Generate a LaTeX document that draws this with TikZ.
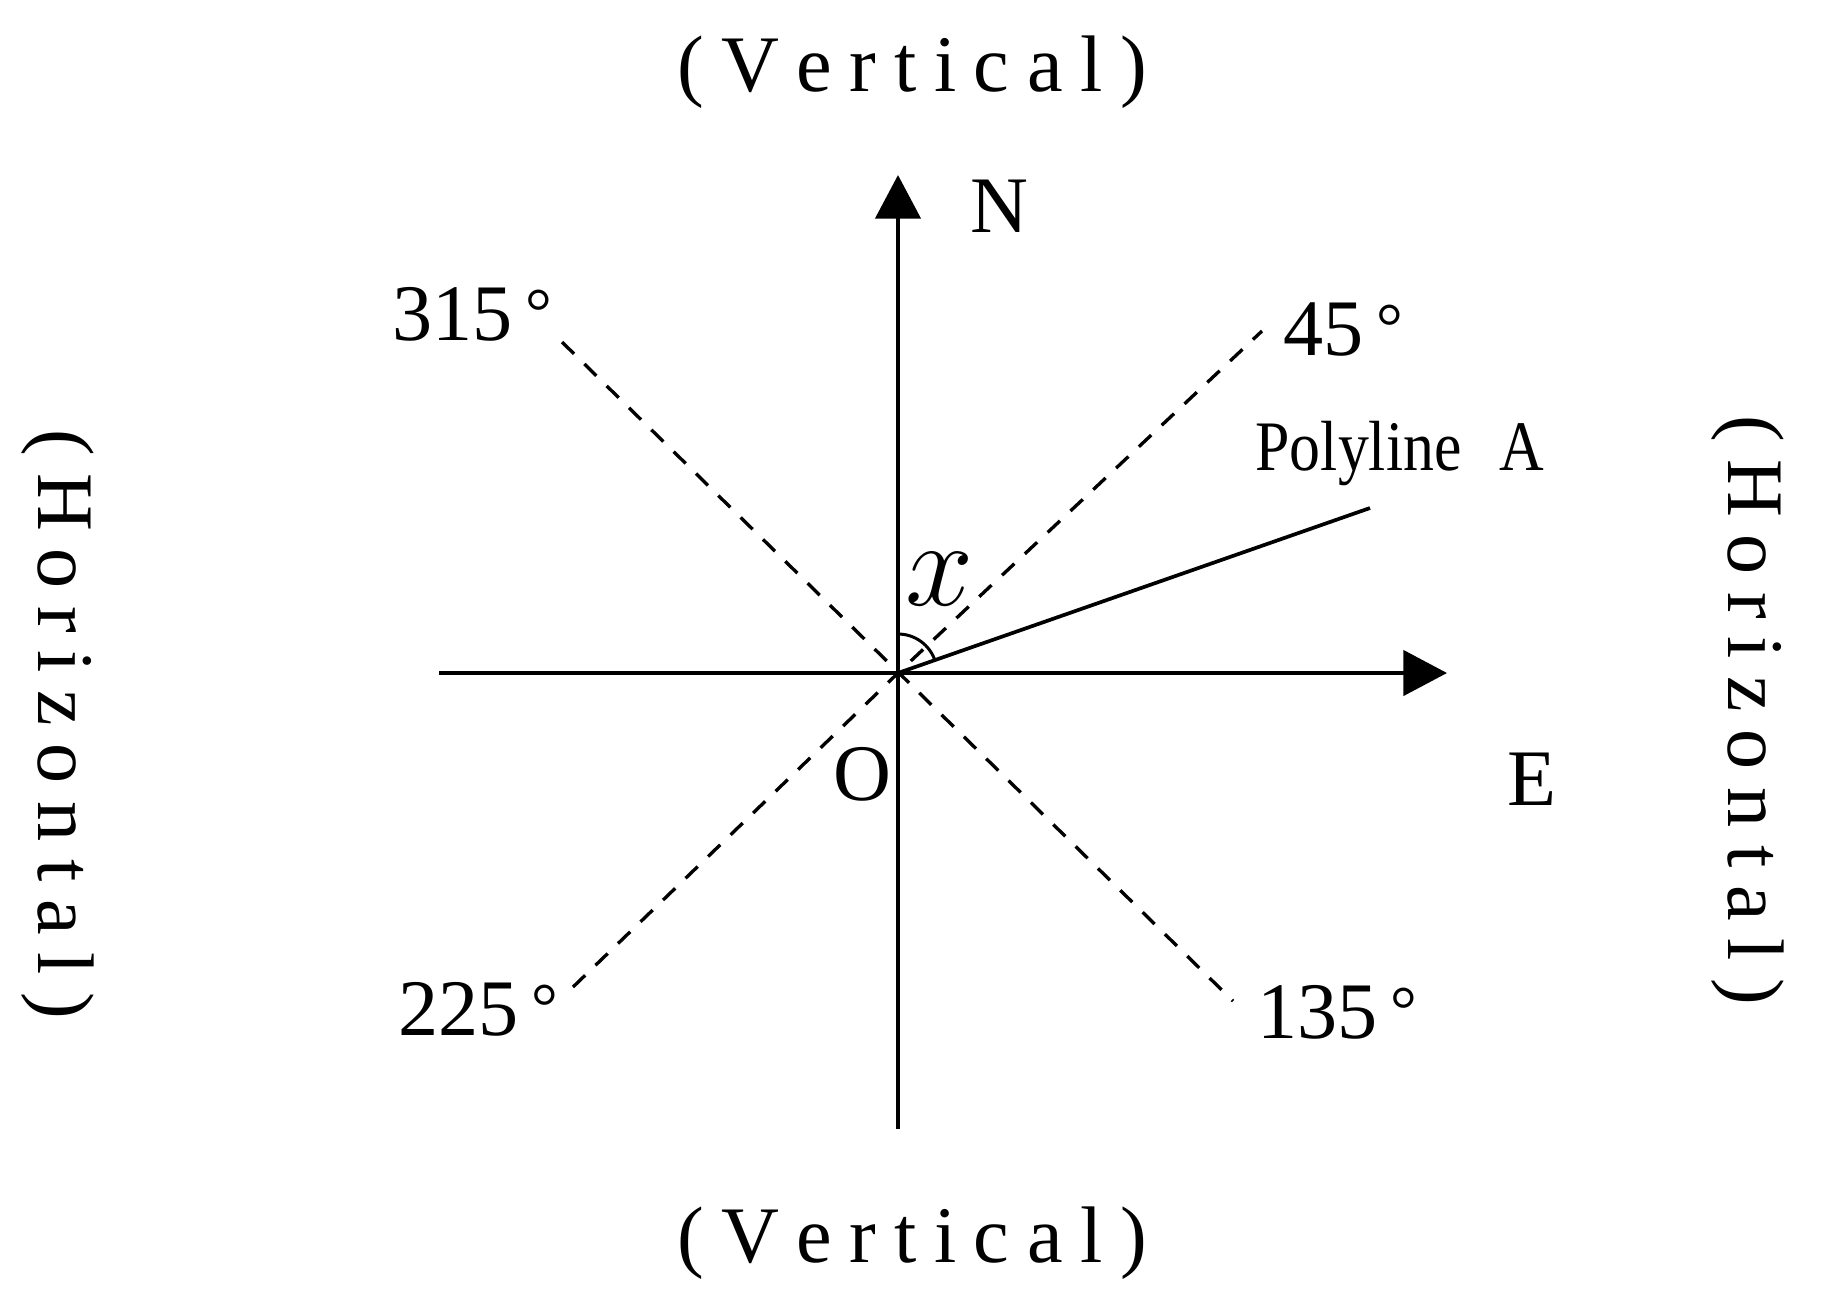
\documentclass[tikz,border=0pt]{standalone}
\usepackage{fontspec}
\setmainfont{Liberation Serif}
\usetikzlibrary{arrows.meta}
\newcommand\lsp{\kern5pt}
\newcommand\dgr{\kern3.5pt{\fontsize{19}{20}\selectfont\raisebox{1.5pt}{°}}}
\begin{document}
\begin{tikzpicture}[x=0.01cm,y=-0.01cm,
  lbl/.style={font=\fontsize{22.8}{26}\selectfont, inner sep=0pt},
  axisline/.style={line width=1.25pt, -{Triangle[length=12.4pt,width=12.8pt]}},
  dline/.style={line width=0.95pt, dash pattern=on 4.8pt off 4.1pt},
  pline/.style={line width=1.05pt}]
\useasboundingbox (0,0) rectangle (1821,1299);
\fill[white] (0,0) rectangle (1821,1299);
% points
\coordinate (O) at (898,673);
\coordinate (Ntip) at (898,175);
\coordinate (Sbot) at (898,1129);
\coordinate (Etip) at (1447,673);
\coordinate (Wend) at (439,673);
\coordinate (d315) at (562,342);
\coordinate (d135) at (1233,1001);
\coordinate (d45) at (1262,331);
\coordinate (d225) at (573,987);
\coordinate (PA) at (1370,508);
\coordinate (arcstart) at (898,634);
% dashed direction lines
\draw[dline] (d315) -- (d135);
\draw[dline] (d225) -- (O) -- (d45);
% axes
\draw[axisline] (Sbot) -- (Ntip);
\draw[axisline] (Wend) -- (Etip);
% polyline A
\draw[pline] (O) -- (PA);
% angle arc
\draw[line width=0.85pt] (arcstart) arc[start angle=90, end angle=19.3, radius=11.1pt];
% labels
\node[lbl, anchor=base west] (l315) at (392,340) {315\dgr};
\node[lbl, anchor=base west] (l45) at (1283,355) {45\dgr};
\node[lbl, anchor=base west] (l225) at (398,1035) {225\dgr};
\node[lbl, anchor=base west] (l135) at (1257,1038) {135\dgr};
\node[lbl, anchor=base west] (nN) at (970,232) {N};
\node[lbl, anchor=base west] (nE) at (1507,805) {E};
\node[lbl, anchor=base] (nO) at (862,800) {O};
\node[inner sep=0pt, font=\fontsize{20.2}{24}\selectfont, xscale=0.87, anchor=base west] (nP) at (1255,470) {Polyline\kern12.5pt A};
\node[inner sep=0pt, font=\fontsize{24.88}{26}\selectfont, scale=1.4] (nx) at (940,579) {$x$};
\node[lbl, anchor=base] (vtop) at (912,91) {(\lsp V\lsp e\lsp r\lsp t\lsp i\lsp c\lsp a\lsp l\lsp )};
\node[lbl, anchor=base] (vbot) at (912,1262) {(\lsp V\lsp e\lsp r\lsp t\lsp i\lsp c\lsp a\lsp l\lsp )};
\node[lbl, rotate=-90] (hleft) at (58,724) {(\lsp H\lsp o\lsp r\lsp i\lsp z\lsp o\lsp n\lsp t\lsp a\lsp l\lsp )};
\node[lbl, rotate=-90] (hright) at (1748,710) {(\lsp H\lsp o\lsp r\lsp i\lsp z\lsp o\lsp n\lsp t\lsp a\lsp l\lsp )};
\end{tikzpicture}
\end{document}
